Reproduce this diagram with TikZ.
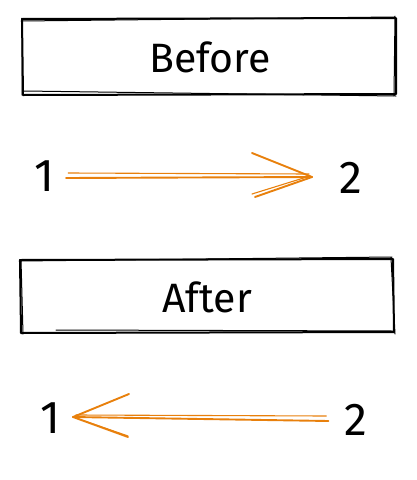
\documentclass[tikz,border=0pt]{standalone}
\usepackage{fontspec}
\setmainfont{Fira Sans}
\definecolor{xorange}{RGB}{232,128,12}
\tikzset{
  sketch/.style={draw=black, line width=2pt, line cap=round, line join=round},
  sketchthin/.style={draw=black, line width=1pt, line cap=round},
  title/.style={font=\fontsize{41}{44}\selectfont},
  digit/.style={font=\fontsize{46}{50}\selectfont, inner sep=0pt},
  shaft/.style={draw=xorange, line width=1.9pt, line cap=round},
  shaftthin/.style={draw=xorange, line width=1.1pt, line cap=round},
}
\begin{document}
\begin{tikzpicture}[x=1pt,y=-1pt]
\useasboundingbox (0,0) rectangle (416,480);
% Before box
\draw[sketch] (22,19) -- (396,18) -- (396,94) -- (23,95) -- cycle;
\draw[sketchthin] (21,21) -- (394,17) (395,16) -- (394,96) (396,96) -- (24,91) (22,95) -- (22,18);
\node[title] (before) at (210,57) {Before};
% After box
\draw[sketch] (20,260) -- (393,259) -- (394,332) -- (21,333) -- cycle;
\draw[sketchthin] (19,261) -- (392,257) (391,258) -- (395,334) (393,331) -- (56,330) (23,334) -- (21,260);
\node[title] (after) at (207,297) {After};
% Row 1
\node[digit] (b1) at (44,176) {1};
\node[digit] (b2) at (351,178) {2};
\coordinate (tipa) at (312,177);
\draw[shaft] (b1.east) ++(12,2) -- (tipa);
\draw[shaftthin] ([shift={(14,-3)}]b1.east) -- ([shift={(-3,-3)}]tipa);
\draw[shaft] (tipa) -- ++(-60,-24);
\draw[shaft] (tipa) -- ++(-57,20);
\draw[shaftthin] ([shift={(-2,-1)}]tipa) -- ++(-58,18);
% Row 2
\node[digit] (a1) at (50,418) {1};
\node[digit] (a2) at (356,420) {2};
\coordinate (tipb) at (73,417);
\draw[shaft] (a2.west) ++(-16,1) -- (tipb);
\draw[shaftthin] ([shift={(-18,-4)}]a2.west) -- ([shift={(3,-2)}]tipb);
\draw[shaft] (tipb) -- ++(56,-23);
\draw[shaft] (tipb) -- ++(55,20);
\draw[shaftthin] ([shift={(3,1)}]tipb) -- ++(52,18);
\end{tikzpicture}
\end{document}
